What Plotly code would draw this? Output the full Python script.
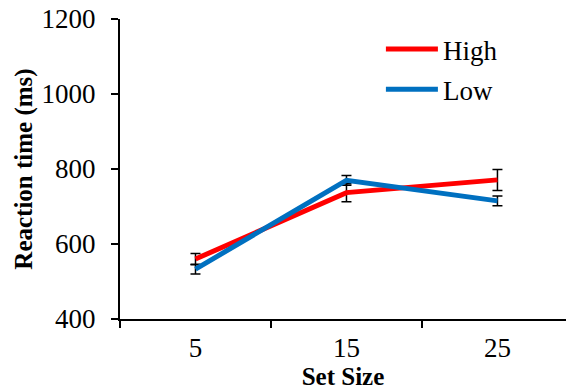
import plotly.graph_objects as go

set_sizes = ["5", "15", "25"]
high_rt = [560, 737, 771]
high_err = [15, 24, 28]
low_rt = [533, 770, 715]
low_err = [13, 13, 13]

font_family = "Times New Roman, Liberation Serif, serif"

fig = go.Figure()
fig.add_trace(go.Scatter(
    x=set_sizes, y=high_rt, name="High", mode="lines",
    line=dict(color="#FF0000", width=5),
    error_y=dict(type="data", array=high_err, color="black", thickness=1.5, width=5),
    legendgroup="a",
))
fig.add_trace(go.Scatter(
    x=set_sizes, y=low_rt, name="Low", mode="lines",
    line=dict(color="#0070C0", width=5),
    error_y=dict(type="data", array=low_err, color="black", thickness=1.5, width=5),
    legendgroup="b",
))

fig.update_layout(
    width=566, height=392,
    margin=dict(l=120, r=0, t=19, b=73),
    plot_bgcolor="white", paper_bgcolor="white",
    font=dict(family=font_family, size=27, color="black"),
    legend=dict(x=0.585, y=0.98, xanchor="left", yanchor="top",
                bgcolor="rgba(0,0,0,0)", tracegroupgap=2, itemwidth=52,
                font=dict(family=font_family, size=27)),
    xaxis=dict(
        type="category", range=[-0.5, 2.454],
        showline=True, linecolor="black", linewidth=2,
        ticks="outside", tickson="boundaries", ticklen=7, tickwidth=1.5, tickcolor="black",
        showgrid=False, zeroline=False,
        ticklabelstandoff=4,
        title=dict(text="<b>Set Size</b>", standoff=0, font=dict(family=font_family, size=25)),
        tickfont=dict(family=font_family, size=27),
    ),
    yaxis=dict(
        range=[400, 1200], tickvals=[400, 600, 800, 1000, 1200],
        showline=True, linecolor="black", linewidth=2,
        ticks="outside", ticklen=7, tickwidth=1.5, tickcolor="black",
        showgrid=False, zeroline=False,
        ticklabelstandoff=10,
        title=dict(text="<b>Reaction time (ms)</b>", standoff=2, font=dict(family=font_family, size=25)),
        tickfont=dict(family=font_family, size=27),
    ),
)

fig.write_html("out.html")
